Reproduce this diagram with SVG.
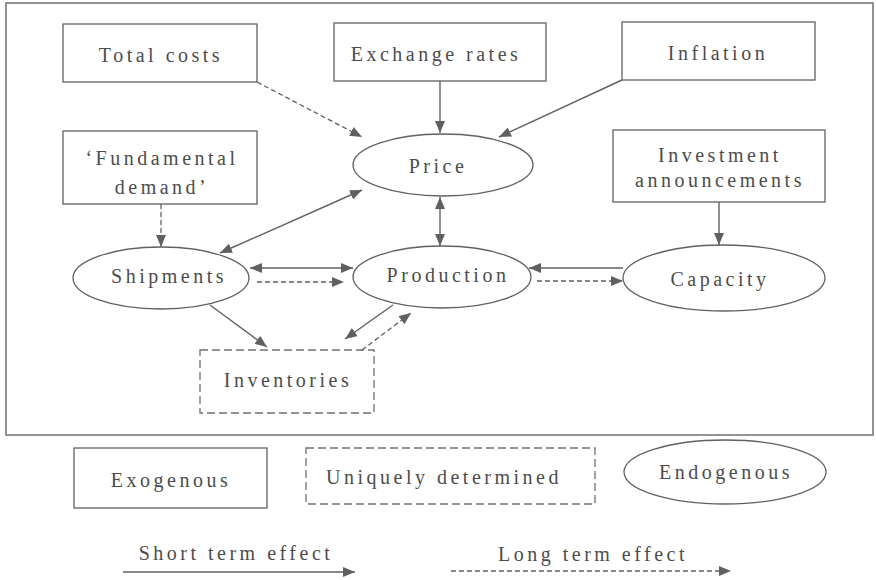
<svg xmlns="http://www.w3.org/2000/svg" width="876" height="580" viewBox="0 0 876 580">
<style>
  text { font-family: "Liberation Serif", "Times New Roman", serif; font-size: 20px; fill: #4c4c4c; letter-spacing: 3.5px; text-anchor: middle; }
  .box { fill: none; stroke: #606060; stroke-width: 1.3; }
  .dbox { fill: none; stroke: #707070; stroke-width: 1.3; stroke-dasharray: 8 4; }
  .frame { fill: none; stroke: #707070; stroke-width: 1.5; }
  .s { fill: none; stroke: #606060; stroke-width: 1.4; }
  .d { fill: none; stroke: #606060; stroke-width: 1.3; stroke-dasharray: 5 3; }
</style>
<defs>
  <marker id="ah" viewBox="0 0 12 10" refX="12" refY="5" markerWidth="12" markerHeight="10" markerUnits="userSpaceOnUse" orient="auto-start-reverse">
    <path d="M0,0 L12,5 L0,10 z" fill="#606060"/>
  </marker>
</defs>
<rect width="876" height="580" fill="#ffffff"/>
<rect class="frame" x="6" y="3" width="867" height="432"/>

<g id="total-costs"><rect class="box" x="63" y="24" width="194" height="58"/><text x="161" y="62">Total costs</text></g>
<g id="exchange-rates"><rect class="box" x="334" y="23" width="212" height="58"/><text x="436" y="61">Exchange rates</text></g>
<g id="inflation"><rect class="box" x="622" y="22" width="193" height="58"/><text x="718" y="60">Inflation</text></g>
<g id="fundamental-demand"><rect class="box" x="63" y="131" width="194" height="73"/><text x="162" y="165">‘Fundamental</text><text x="162" y="194">demand’</text></g>
<g id="investment-announcements"><rect class="box" x="613" y="130" width="212" height="72"/><text x="720" y="162">Investment</text><text x="720" y="187">announcements</text></g>
<g id="price"><ellipse class="box" cx="443" cy="165" rx="90" ry="31"/><text x="438" y="173">Price</text></g>
<g id="shipments"><ellipse class="box" cx="161" cy="278" rx="88" ry="31"/><text x="169" y="283">Shipments</text></g>
<g id="production"><ellipse class="box" cx="442" cy="277" rx="89" ry="31"/><text x="448" y="282">Production</text></g>
<g id="capacity"><ellipse class="box" cx="724" cy="278" rx="101" ry="33"/><text x="720" y="286">Capacity</text></g>
<g id="inventories"><rect class="dbox" x="200" y="350" width="174" height="63"/><text x="288" y="387">Inventories</text></g>

<g id="connectors">
  <line class="d" x1="257" y1="82" x2="362" y2="137" marker-end="url(#ah)"/>
  <line class="s" x1="440" y1="81" x2="440" y2="133" marker-end="url(#ah)"/>
  <line class="s" x1="622" y1="80" x2="499" y2="137" marker-end="url(#ah)"/>
  <line class="d" x1="161" y1="204" x2="161" y2="247" marker-end="url(#ah)"/>
  <line class="s" x1="220" y1="253" x2="362" y2="190" marker-start="url(#ah)" marker-end="url(#ah)"/>
  <line class="s" x1="440" y1="197" x2="440" y2="246" marker-start="url(#ah)" marker-end="url(#ah)"/>
  <line class="s" x1="250" y1="268" x2="353" y2="268" marker-start="url(#ah)" marker-end="url(#ah)"/>
  <line class="d" x1="257" y1="282" x2="344" y2="282" marker-end="url(#ah)"/>
  <line class="s" x1="623" y1="268" x2="529" y2="268" marker-end="url(#ah)"/>
  <line class="d" x1="537" y1="281" x2="623" y2="281" marker-end="url(#ah)"/>
  <line class="s" x1="719" y1="202" x2="719" y2="245" marker-end="url(#ah)"/>
  <line class="s" x1="210" y1="305" x2="267" y2="347" marker-end="url(#ah)"/>
  <line class="s" x1="393" y1="305" x2="345" y2="339" marker-end="url(#ah)"/>
  <line class="d" x1="362" y1="350" x2="411" y2="313" marker-end="url(#ah)"/>
</g>

<g id="legend-exogenous"><rect class="box" x="74" y="448" width="193" height="60"/><text x="171" y="487">Exogenous</text></g>
<g id="legend-uniquely"><rect class="dbox" x="306" y="448" width="289" height="56"/><text x="444" y="484">Uniquely determined</text></g>
<g id="legend-endogenous"><ellipse class="box" cx="725" cy="472" rx="101" ry="32"/><text x="726" y="479">Endogenous</text></g>
<g id="legend-short"><text x="236" y="560">Short term effect</text><line class="s" x1="123" y1="572" x2="355" y2="572" marker-end="url(#ah)"/></g>
<g id="legend-long"><text x="593" y="561">Long term effect</text><line class="d" x1="451" y1="571" x2="731" y2="571" marker-end="url(#ah)"/></g>
</svg>
